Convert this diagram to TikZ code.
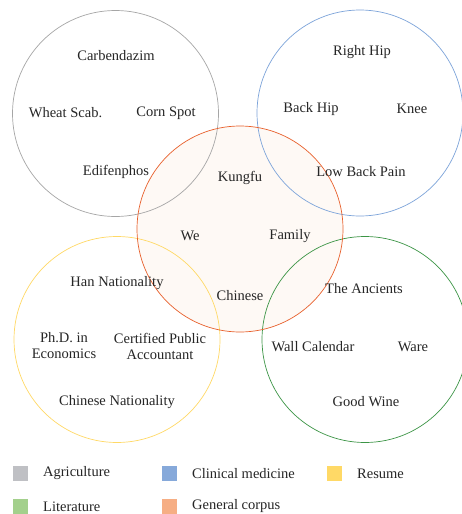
\documentclass[tikz,border=0pt]{standalone}
\usepackage{fontspec}
\setmainfont{Liberation Serif}
\definecolor{cgray}{HTML}{A6A6A6}
\definecolor{cblue}{HTML}{7DA4DA}
\definecolor{corange}{HTML}{E8602C}
\definecolor{cyellow}{HTML}{FFD966}
\definecolor{cgreen}{HTML}{3C9546}
\definecolor{corfill}{HTML}{FEF9F5}
\definecolor{lgray}{HTML}{BFC0C4}
\definecolor{lblue}{HTML}{86A9DA}
\definecolor{lyellow}{HTML}{FFD966}
\definecolor{lgreen}{HTML}{A3D08C}
\definecolor{lorange}{HTML}{F6AE84}
\definecolor{txt}{HTML}{262626}
\tikzset{
  venn/.style={circle, minimum size=206pt, inner sep=0pt, line width=0.7pt},
  lbl/.style={font=\fontsize{14.5}{16}\selectfont, text=txt, inner sep=0pt, align=center},
  sq/.style={minimum size=15pt, inner sep=0pt},
  leg/.style={font=\fontsize{14.5}{16}\selectfont, text=txt, inner sep=0pt, anchor=west}
}
\begin{document}
\begin{tikzpicture}[x=1pt,y=-1pt]
\useasboundingbox[fill=white] (0,0) rectangle (462,514);
% orange fill underneath
\node[venn, fill=corfill] (ofill) at (240,229) {};
\node[venn, draw=cgray] (agri) at (115.5,113.5) {};
\node[venn, draw=cblue] (clin) at (360,113) {};
\node[venn, draw=cyellow] (res) at (117,339.5) {};
\node[venn, draw=cgreen] (lit) at (365,339.5) {};
\node[venn, draw=corange] (gen) at (240,229) {};
% agriculture
\node[lbl] (a1) at (116,56) {Carbendazim};
\node[lbl] (a2) at (65.5,113) {Wheat Scab.};
\node[lbl] (a3) at (166,113) {Corn Spot};
\node[lbl] (a4) at (116,172) {Edifenphos};
% clinical
\node[lbl] (b1) at (362,52) {Right Hip};
\node[lbl] (b2) at (311,109) {Back Hip};
\node[lbl] (b3) at (412,109) {Knee};
\node[lbl] (b4) at (361,172) {Low Back Pain};
% general
\node[lbl] (g1) at (240,178) {Kungfu};
\node[lbl] (g2) at (190,236) {We};
\node[lbl] (g3) at (290,236) {Family};
\node[lbl] (g4) at (240,296) {Chinese};
% resume
\node[lbl] (r1) at (117,283) {Han Nationality};
\node[lbl] (r2) at (64,346) {Ph.D. in\\Economics};
\node[lbl] (r3) at (160,346) {Certified Public\\Accountant};
\node[lbl] (r4) at (117,402) {Chinese Nationality};
% literature
\node[lbl] (l1) at (364,289) {The Ancients};
\node[lbl] (l2) at (313,347) {Wall Calendar};
\node[lbl] (l3) at (413,347) {Ware};
\node[lbl] (l4) at (366,402) {Good Wine};
% legend
\node[sq, fill=lgray] (s1) at (20.5,473.5) {};
\node[leg] (t1) at (43,473.5) {Agriculture};
\node[sq, fill=lblue] (s2) at (169.5,473.5) {};
\node[leg] (t2) at (192,473.5) {Clinical medicine};
\node[sq, fill=lyellow] (s3) at (334,473.5) {};
\node[leg] (t3) at (357,473.5) {Resume};
\node[sq, fill=lgreen] (s4) at (20.5,506.5) {};
\node[leg] (t4) at (43,506.5) {Literature};
\node[sq, fill=lorange] (s5) at (169.5,506.5) {};
\node[leg] (t5) at (192,506.5) {General corpus};
\end{tikzpicture}
\end{document}
